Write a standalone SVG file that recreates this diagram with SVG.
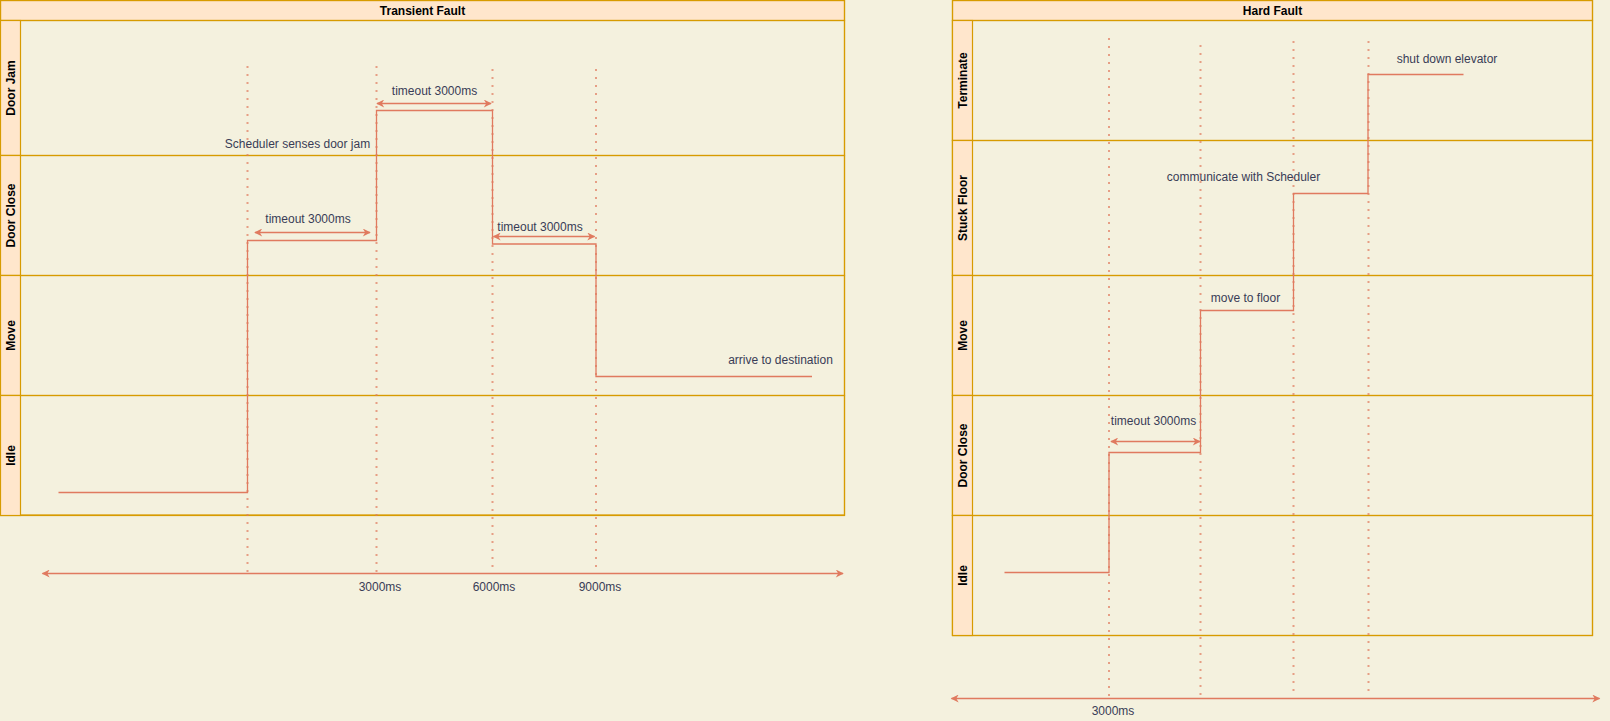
<svg xmlns="http://www.w3.org/2000/svg" width="1610" height="721" viewBox="0 0 1610 721">
<defs>
<style>
.pool{fill:none;stroke:#d79b00;stroke-width:1.2}
.hdr{fill:#ffe6cc;stroke:#d79b00;stroke-width:1.2}
.lane{fill:none;stroke:#d79b00;stroke-width:1.2}
.ttl{font-family:"Liberation Sans",Arial,sans-serif;font-size:12px;font-weight:bold;fill:#000;text-anchor:middle}
.lbl{font-family:"Liberation Sans",Arial,sans-serif;font-size:12px;fill:#393C56;text-anchor:middle}
.dot{stroke:#E07A5F;stroke-width:2;stroke-dasharray:2 6;fill:none;opacity:0.7}
.step{stroke:#E07A5F;stroke-width:1.3;fill:none}
.arr{stroke:#E07A5F;stroke-width:1.3;fill:none;marker-start:url(#ah);marker-end:url(#ah)}
</style>
<marker id="ah" viewBox="0 0 10 10" refX="9" refY="5" markerWidth="10" markerHeight="8" markerUnits="userSpaceOnUse" orient="auto-start-reverse">
<path d="M0,0 L10,5 L0,10 L3,5 z" fill="#E07A5F"/>
</marker>
</defs>
<rect x="0" y="0" width="1610" height="721" fill="#F4F1DE"/>

<g id="pool-transient">
<rect class="hdr" x="0.5" y="0.5" width="844" height="20"/>
<text class="ttl" x="422.5" y="15">Transient Fault</text>
<rect class="pool" x="0.5" y="0.5" width="844" height="514.5"/>
</g>
<g id="lane-doorjam">
<rect class="lane" x="0.5" y="20.5" width="844" height="135"/>
<rect class="hdr" x="0.5" y="20.5" width="20" height="135"/>
<text class="ttl" transform="translate(14.5,88) rotate(-90)">Door Jam</text>
</g>
<g id="lane-doorclose">
<rect class="lane" x="0.5" y="155.5" width="844" height="120"/>
<rect class="hdr" x="0.5" y="155.5" width="20" height="120"/>
<text class="ttl" transform="translate(14.5,215.5) rotate(-90)">Door Close</text>
</g>
<g id="lane-move">
<rect class="lane" x="0.5" y="275.5" width="844" height="120"/>
<rect class="hdr" x="0.5" y="275.5" width="20" height="120"/>
<text class="ttl" transform="translate(14.5,335.5) rotate(-90)">Move</text>
</g>
<g id="lane-idle">
<rect class="lane" x="0.5" y="395.5" width="844" height="120"/>
<rect class="hdr" x="0.5" y="395.5" width="20" height="120"/>
<text class="ttl" transform="translate(14.5,455.5) rotate(-90)">Idle</text>
</g>

<g id="pool-hard">
<rect class="hdr" x="952.5" y="0.5" width="640" height="20"/>
<text class="ttl" x="1272.5" y="15">Hard Fault</text>
<rect class="pool" x="952.5" y="0.5" width="640" height="635"/>
</g>
<g id="lane-terminate">
<rect class="lane" x="952.5" y="20.5" width="640" height="120"/>
<rect class="hdr" x="952.5" y="20.5" width="20" height="120"/>
<text class="ttl" transform="translate(966.5,80.5) rotate(-90)">Terminate</text>
</g>
<g id="lane-stuck">
<rect class="lane" x="952.5" y="140.5" width="640" height="135"/>
<rect class="hdr" x="952.5" y="140.5" width="20" height="135"/>
<text class="ttl" transform="translate(966.5,208) rotate(-90)">Stuck Floor</text>
</g>
<g id="lane-move2">
<rect class="lane" x="952.5" y="275.5" width="640" height="120"/>
<rect class="hdr" x="952.5" y="275.5" width="20" height="120"/>
<text class="ttl" transform="translate(966.5,335.5) rotate(-90)">Move</text>
</g>
<g id="lane-doorclose2">
<rect class="lane" x="952.5" y="395.5" width="640" height="120"/>
<rect class="hdr" x="952.5" y="395.5" width="20" height="120"/>
<text class="ttl" transform="translate(966.5,455.5) rotate(-90)">Door Close</text>
</g>
<g id="lane-idle2">
<rect class="lane" x="952.5" y="515.5" width="640" height="120"/>
<rect class="hdr" x="952.5" y="515.5" width="20" height="120"/>
<text class="ttl" transform="translate(966.5,575.5) rotate(-90)">Idle</text>
</g>

<g id="connectors">
<line class="dot" x1="247.5" y1="66" x2="247.5" y2="573"/>
<line class="dot" x1="376.5" y1="66" x2="376.5" y2="573"/>
<line class="dot" x1="492.5" y1="69" x2="492.5" y2="573"/>
<line class="dot" x1="596" y1="69" x2="596" y2="573"/>
<polyline class="step" points="58.5,492.5 247.5,492.5 247.5,240.5 376.5,240.5 376.5,110.5 492.5,110.5 492.5,244 596,244 596,376.5 812,376.5"/>
<line class="arr" x1="255" y1="232.5" x2="370" y2="232.5"/>
<line class="arr" x1="377" y1="103.5" x2="491" y2="103.5"/>
<line class="arr" x1="493.5" y1="236.5" x2="594.5" y2="236.5"/>
<line class="arr" x1="42.5" y1="573.5" x2="843" y2="573.5"/>

<line class="dot" x1="1109" y1="38" x2="1109" y2="697"/>
<line class="dot" x1="1200.5" y1="45" x2="1200.5" y2="697"/>
<line class="dot" x1="1293.5" y1="41" x2="1293.5" y2="697"/>
<line class="dot" x1="1368.5" y1="41" x2="1368.5" y2="697"/>
<polyline class="step" points="1004.5,572.5 1109,572.5 1109,452.5 1200.5,452.5 1200.5,310.5 1293.5,310.5 1293.5,193.5 1368,193.5 1368,74.5 1463.5,74.5"/>
<line class="arr" x1="1111" y1="441.5" x2="1200" y2="441.5"/>
<line class="arr" x1="951.5" y1="698.5" x2="1599.5" y2="698.5"/>
</g>

<g id="labels">
<text class="lbl" x="297.5" y="148">Scheduler senses door jam</text>
<text class="lbl" x="308" y="222.5">timeout 3000ms</text>
<text class="lbl" x="434.5" y="95">timeout 3000ms</text>
<text class="lbl" x="540" y="230.5">timeout 3000ms</text>
<text class="lbl" x="780.5" y="364">arrive to destination</text>
<text class="lbl" x="380" y="591">3000ms</text>
<text class="lbl" x="494" y="591">6000ms</text>
<text class="lbl" x="600" y="591">9000ms</text>
<text class="lbl" x="1447" y="62.5">shut down elevator</text>
<text class="lbl" x="1243.5" y="180.5">communicate with Scheduler</text>
<text class="lbl" x="1245.5" y="301.5">move to floor</text>
<text class="lbl" x="1153.5" y="424.5">timeout 3000ms</text>
<text class="lbl" x="1113" y="715">3000ms</text>
</g>
</svg>
